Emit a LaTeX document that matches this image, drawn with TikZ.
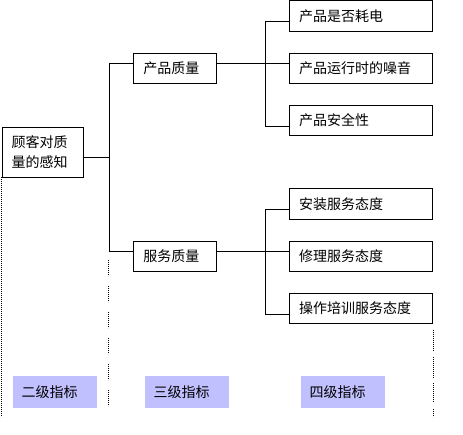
\documentclass[tikz,border=0pt]{standalone}
\usepackage{fontspec}
\newfontfamily\cjk{Noto Sans CJK SC}
\usepackage{tikz}
\usetikzlibrary{positioning, calc}

\begin{document}
\begin{tikzpicture}[
  x=1pt, y=-1pt,
  box/.style={draw, line width=0.8pt, inner xsep=10pt, inner ysep=0pt, align=left,
    font=\cjk\fontsize{14}{20}\selectfont},
  rootbox/.style={box, text width=62.6pt, minimum height=50pt, inner xsep=9.5pt},
  midbox/.style={box, text width=63pt, minimum height=30pt},
  leafbox/.style={box, text width=123.3pt, minimum height=30pt},
  tag/.style={fill=tagblue, inner xsep=8.7pt, text width=66.6pt, minimum height=31.7pt,
    inner ysep=0pt, align=left, font=\cjk\fontsize{14}{20}\selectfont},
  link/.style={line width=0.8pt},
  guide/.style={line width=0.8pt, dash pattern=on 0.8pt off 1.2pt}
]
  \definecolor{tagblue}{HTML}{C0C0FF}
  \useasboundingbox (0,0) rectangle (463,434);

  \node[rootbox] (root) at (43,152) {顾客对质\\量的感知};
  \node[midbox] (pq) at (174.8,68.3) {产品质量};
  \node[midbox] (sq) at (174.8,256.3) {服务质量};

  \node[leafbox, minimum height=30.6pt] (p1) at (360.7,16) {产品是否耗电};
  \node[leafbox] (p2) at (360.7,68.3) {产品运行时的噪音};
  \node[leafbox] (p3) at (360.7,120.3) {产品安全性};
  \node[leafbox, minimum height=31pt] (s1) at (360.7,203.8) {安装服务态度};
  \node[leafbox] (s2) at (360.7,256.3) {修理服务态度};
  \node[leafbox] (s3) at (360.7,308.3) {操作培训服务态度};

  % level connectors
  \draw[link] ([yshift=-5.3pt]root.east) -- ++(25,0) coordinate (fork1);
  \draw[link] ([yshift=5pt]pq.west) -| (fork1) |- ([yshift=5pt]sq.west);

  \draw[link] ([yshift=5pt]pq.east) -- ([yshift=5pt]p2.west);
  \draw[link] ([yshift=-5.3pt]p1.west) -- ++(-23.7,0) coordinate (fork2)
    |- ([yshift=-6pt]p3.west);

  \draw[link] ([yshift=5pt]sq.east) -- ([yshift=5pt]s2.west);
  \draw[link] ([yshift=-5.5pt]s1.west) -- ++(-23.7,0) coordinate (fork3)
    |- ([yshift=-6pt]s3.west);

  % column guides
  \draw[guide] (1,177) -- (1,417);
  \foreach \y in {260,286,...,390}
    \draw[guide] (108.3,\y) -- ++(0,16);
  \foreach \a/\b in {330/351,357/378,383/402,409/417}
    \draw[guide] (433,\a) -- (433,\b);

  % level tags
  \node[tag] (t2) at (55,391.8) {二级指标};
  \node[tag] (t3) at (187,391.8) {三级指标};
  \node[tag] (t4) at (343,391.8) {四级指标};
\end{tikzpicture}
\end{document}
